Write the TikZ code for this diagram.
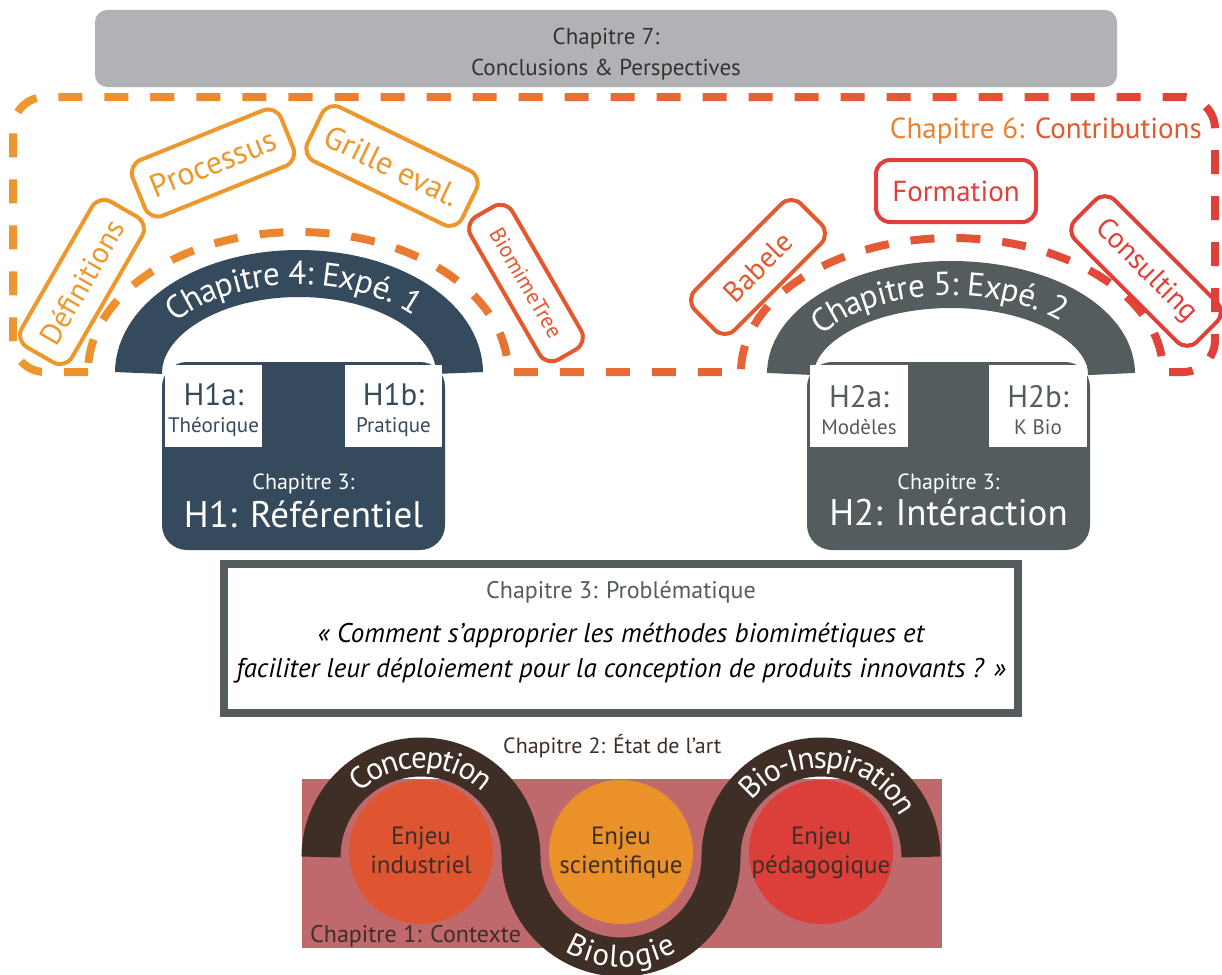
\documentclass[tikz,border=0pt]{standalone}
\usepackage{fontspec}
\setmainfont{PT Sans}
\usetikzlibrary{decorations.text}

\definecolor{barGray}{HTML}{B1B2B5}
\definecolor{textDark}{HTML}{333333}
\definecolor{contribOrange}{HTML}{EE972C}
\definecolor{contribMid}{HTML}{E4582E}
\definecolor{contribRed}{HTML}{E03F3A}
\definecolor{expeBlue}{HTML}{354A5C}
\definecolor{expeGray}{HTML}{545C5E}
\definecolor{artBrown}{HTML}{3E2E25}
\definecolor{ctxPink}{HTML}{C0696D}
\definecolor{enjeuInd}{HTML}{DF5532}
\definecolor{enjeuSci}{HTML}{EA9229}
\definecolor{enjeuPed}{HTML}{DC3F39}

\newcommand{\pxfont}[1]{\fontsize{#1}{#1}\selectfont}
\newcommand{\expefont}{\fontsize{33}{33}\selectfont\color{white}}
\newcommand{\artfont}{\fontsize{31}{31}\selectfont\color{white}}

% contour of chapter 6 (dashed, drawn in slices for the colour ramp)
\def\contribpath{(88,372) -- (45,372) arc[start angle=270, end angle=180, radius=32pt]
	-- (13,129) arc[start angle=180, end angle=90, radius=32pt]
	-- (1183,97) arc[start angle=90, end angle=0, radius=32pt]
	-- (1215,340) arc[start angle=0, end angle=-90, radius=32pt]
	-- (1163,372) arc[start angle=0, end angle=180, x radius=211pt, y radius=134pt]
	-- (508,372) arc[start angle=0, end angle=180, x radius=210pt, y radius=140pt] -- cycle}

\begin{document}
\begin{tikzpicture}[x=1pt, y=-1pt,
		contrib/.style={draw=#1, text=#1, line width=4pt, rounded corners=14pt, inner sep=0pt, minimum height=56pt},
		dashframe/.style={line width=8pt, dash pattern=on 24pt off 22pt},
		arctext/.style={decorate, decoration={text along path, text align=center, raise=-11pt, text={#1}}},
		chaptxt/.style={anchor=base, inner sep=0pt}]
	\useasboundingbox (0,0) rectangle (1222,974);
	\fill[white] (0,0) rectangle (1222,974);

	% chapitre 7
	\fill[barGray, rounded corners=12pt] (95,10) rectangle (1117,87);
	\node[chaptxt, text=textDark, font=\pxfont{23}] (ch7) at (606,45) {Chapitre 7:};
	\node[chaptxt, text=textDark, font=\pxfont{23}] (ch7b) at (606,75) {Conclusions \& Perspectives};

	% chapitre 6
	\foreach \i in {0,...,24} {
		\pgfmathtruncatemacro\mixval{round(100*\i/24)}
		\begin{scope}
			\clip (\i*50-1,80) rectangle (\i*50+51,390);
			\draw[dashframe, draw=contribRed!\mixval!contribOrange] \contribpath;
		\end{scope}
	}
	\node[chaptxt, anchor=base east, font=\pxfont{29}] (ch6) at (1202,138) {\color{contribOrange!75!contribRed}Chapitre 6: \color{contribMid}Contributions};
	\node[contrib=contribOrange, minimum width=168pt, minimum height=58pt, rotate=60, font=\pxfont{30}] (definitions) at (82,282) {Définitions};
	\node[contrib=contribOrange, minimum width=160pt, minimum height=60pt, rotate=22, font=\pxfont{32}] (processus) at (213,163) {Processus};
	\node[contrib=contribOrange, minimum width=172pt, minimum height=60pt, rotate=-26, font=\pxfont{32}] (grille) at (392,166) {Grille eval.};
	\node[contrib=contribMid, minimum width=165pt, minimum height=48pt, rotate=-60, font=\pxfont{22}] (biomimetree) at (526,283) {BiomimeTree};
	\node[contrib=contribMid, minimum width=150pt, rotate=45, font=\pxfont{29}] (babele) at (758,267) {Babele};
	\node[contrib=contribRed, minimum width=160pt, minimum height=62pt, font=\pxfont{29}] (formation) at (956,191) {Formation};
	\node[contrib=contribRed, minimum width=172pt, rotate=-45, font=\pxfont{29}] (consulting) at (1146,271) {Consulting};

	% chapitres 4 et 5
	\draw[line width=47pt, expeBlue] (138.5,373) arc[start angle=180, end angle=0, x radius=160.5pt, y radius=99.5pt];
	\path[arctext=|\expefont|Chapitre 4: Expé. 1, decoration={text align={center, right indent=12pt}}] (138.5,373) arc[start angle=180, end angle=0, x radius=160.5pt, y radius=99.5pt];
	\draw[line width=47pt, expeGray] (790.5,374) arc[start angle=180, end angle=0, x radius=160.5pt, y radius=89.5pt];
	\path[arctext=|\expefont|Chapitre 5: Expé. 2, decoration={text align={center, right indent=26pt}}] (790.5,374) arc[start angle=180, end angle=0, x radius=160.5pt, y radius=89.5pt];

	% chapitre 3 : hypotheses
	\fill[expeBlue, rounded corners=25pt] (162,362) rectangle (445,550);
	\fill[white] (165,365) rectangle (262,447);
	\fill[white] (345,365) rectangle (442,447);
	\node[chaptxt, text=expeBlue, font=\pxfont{31}] (h1a) at (213.5,405) {H1a:};
	\node[chaptxt, text=expeBlue, font=\pxfont{21}] (h1atxt) at (213.5,432) {Théorique};
	\node[chaptxt, text=expeBlue, font=\pxfont{31}] (h1b) at (393.5,405) {H1b:};
	\node[chaptxt, text=expeBlue, font=\pxfont{21}] (h1btxt) at (393.5,432) {Pratique};
	\node[chaptxt, text=white, font=\pxfont{22}] (h1ch) at (303.5,489) {Chapitre 3:};
	\node[chaptxt, text=white, font=\pxfont{37}] (h1) at (303.5,527) {H1: Référentiel};

	\fill[expeGray, rounded corners=25pt] (807,362) rectangle (1090,550);
	\fill[white] (810,365) rectangle (908,447);
	\fill[white] (989,365) rectangle (1087,447);
	\node[chaptxt, text=expeGray, font=\pxfont{31}] (h2a) at (859,407) {H2a:};
	\node[chaptxt, text=expeGray, font=\pxfont{21}] (h2atxt) at (859,434) {Modèles};
	\node[chaptxt, text=expeGray, font=\pxfont{31}] (h2b) at (1038,407) {H2b:};
	\node[chaptxt, text=expeGray, font=\pxfont{21}] (h2btxt) at (1038,434) {K Bio};
	\node[chaptxt, text=white, font=\pxfont{22}] (h2ch) at (948.5,489) {Chapitre 3:};
	\node[chaptxt, text=white, font=\pxfont{37}] (h2) at (948.5,525) {H2: Intéraction};

	% chapitre 3 : problematique
	\draw[line width=8pt, expeGray, fill=white] (224,564) rectangle (1018,713);
	\node[chaptxt, text=expeGray, font=\pxfont{24}] (pbtitre) at (621,598) {Chapitre 3: Problématique};
	\node[chaptxt, font=\pxfont{27}\itshape] (pb1) at (621,642) {« Comment s’approprier les méthodes biomimétiques et};
	\node[chaptxt, font=\pxfont{27}\itshape] (pb2) at (621,677) {faciliter leur déploiement pour la conception de produits innovants ? »};

	% chapitres 1 et 2
	\fill[ctxPink] (302,779) rectangle (942,948);
	\fill[enjeuInd] (421,852) circle[radius=72pt];
	\fill[enjeuSci] (621,852) circle[radius=72pt];
	\fill[enjeuPed] (821,852) circle[radius=72pt];
	\draw[line width=39pt, artBrown] (321,857) arc[start angle=180, end angle=0, radius=100pt]
		arc[start angle=180, end angle=360, radius=100pt] arc[start angle=180, end angle=0, radius=100pt];
	\path[arctext=|\artfont|Conception] (321,857) arc[start angle=180, end angle=0, radius=100pt];
	\path[arctext=|\artfont|Biologie, decoration={raise=-10pt}] (521,857) arc[start angle=180, end angle=360, radius=100pt];
	\path[arctext=|\artfont|Bio-Inspiration, decoration={text align={center, left indent=22pt}}] (721,857) arc[start angle=180, end angle=0, radius=100pt];
	\node[chaptxt, text=artBrown, font=\pxfont{25}, align=center] (enjeu1) at (421,873) {Enjeu\\[4pt]industriel};
	\node[chaptxt, text=artBrown, font=\pxfont{25}, align=center] (enjeu2) at (621,873) {Enjeu\\[4pt]scientifique};
	\node[chaptxt, text=artBrown, font=\pxfont{25}, align=center] (enjeu3) at (821,873) {Enjeu\\[4pt]pédagogique};
	\node[chaptxt, anchor=base west, text=artBrown, font=\pxfont{22}] (ch2) at (503,753) {Chapitre 2: État de l’art};
	\node[chaptxt, anchor=base west, text=artBrown, font=\pxfont{24}] (ch1) at (310,942) {Chapitre 1: Contexte};
\end{tikzpicture}
\end{document}
